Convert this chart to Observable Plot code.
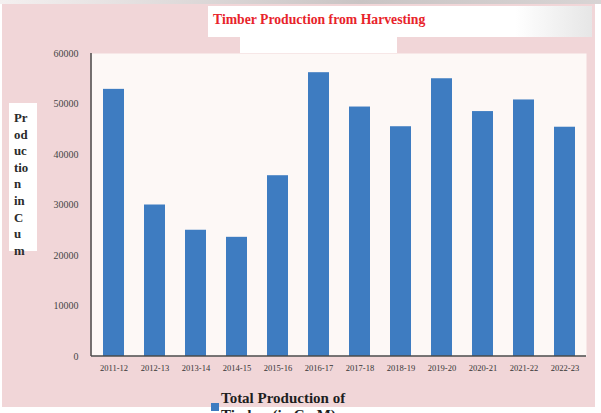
<!DOCTYPE html>
<html>
<head>
<meta charset="utf-8">
<script src="https://cdn.jsdelivr.net/npm/d3@7"></script>
<script src="https://cdn.jsdelivr.net/npm/@observablehq/plot@0.6"></script>
<style>
  html, body { margin: 0; padding: 0; background: #fff; }
  #wrap { position: relative; width: 601px; height: 413px; overflow: hidden; background: #fff; font-family: "Liberation Serif", "DejaVu Serif", serif; }
  .abs { position: absolute; }
  #pink { left: 2px; top: 4px; width: 593px; height: 403px; background: #f1d6d8; }
  #topline { left: 0; top: 0; width: 601px; height: 4px; background: linear-gradient(to right, #f4f0f0, #c9c4c4 60%, #d8d4d4); }
  #titlebox { left: 208px; top: 6px; width: 384px; height: 31px; background: linear-gradient(to right, #ffffff 0%, #ffffff 80%, #e6e6e6 100%); }
  #titlebox2 { left: 240px; top: 37px; width: 157px; height: 16px; background: #ffffff; }
  #title { left: 213px; top: 13px; font-size: 13.7px; line-height: 14px; font-weight: bold; color: #e8232a; white-space: nowrap; }
  #ylabbox { left: 9px; top: 103px; width: 28px; height: 148px; background: #ffffff; }
  #ylab { left: 14px; top: 110px; font-size: 12.8px; line-height: 16.6px; font-weight: bold; color: #2a2a2a; }
  #legsq { left: 211px; top: 403px; width: 8px; height: 8px; background: #3e7cc1; }
  #legtxt { left: 221px; top: 389.5px; font-size: 15px; line-height: 17px; font-weight: bold; color: #1e1e1e; white-space: nowrap; }
  #plot { left: 0; top: 0; }
</style>
</head>
<body>
<div id="wrap">
  <div id="topline" class="abs"></div>
  <div id="pink" class="abs"></div>
  <div id="titlebox" class="abs"></div>
  <div id="titlebox2" class="abs"></div>
  <div id="plot" class="abs"></div>
  <div id="title" class="abs"></div>
  <div id="ylabbox" class="abs"></div>
  <div id="ylab" class="abs"></div>
  <div id="legsq" class="abs"></div>
  <div id="legtxt" class="abs"></div>
</div>
<script>
const categories = ["2011-12", "2012-13", "2013-14", "2014-15", "2015-16", "2016-17",
                    "2017-18", "2018-19", "2019-20", "2020-21", "2021-22", "2022-23"];
const production = [52900, 30000, 25000, 23600, 35800, 56200, 49400, 45500, 55000, 48500, 50800, 45400];
const yTicks = [0, 10000, 20000, 30000, 40000, 50000, 60000];
const titleText = "Timber Production from Harvesting";
const yLabelLines = ["Pr", "od", "uc", "tio", "n", "in", "C", "u", "m"];
const legendLines = ["Total Production of", "Timber (in Cu M)"];

const data = categories.map((c, i) => ({year: c, value: production[i]}));

const axisLines = (index, scales, values, dims) => {
  const {width, height, marginLeft, marginRight, marginTop, marginBottom} = dims;
  const g = d3.create("svg:g").attr("stroke", "#4a4a4a").attr("stroke-width", 1.5);
  g.append("line").attr("x1", marginLeft).attr("x2", marginLeft)
    .attr("y1", marginTop).attr("y2", height - marginBottom);
  g.append("line").attr("x1", marginLeft).attr("x2", width - marginRight)
    .attr("y1", height - marginBottom).attr("y2", height - marginBottom);
  return g.node();
};

const chart = Plot.plot({
  width: 601,
  height: 413,
  marginLeft: 91,
  marginRight: 15,
  marginTop: 53,
  marginBottom: 57,
  style: {background: "transparent", fontFamily: "'Liberation Serif', serif", overflow: "visible"},
  x: {domain: categories, paddingInner: 0.49, paddingOuter: 0.245, label: null},
  y: {domain: [0, 60000], label: null},
  marks: [
    Plot.frame({fill: "#fdf8f6", stroke: "none"}),
    Plot.barY(data, {x: "year", y: "value", fill: "#3e7cc1"}),
    Plot.axisY({ticks: yTicks, tickSize: 0, tickPadding: 13, fontSize: 10, fill: "#454545",
                tickFormat: d => String(d), label: null}),
    Plot.axisX({tickSize: 0, tickPadding: 8, fontSize: 8.5, fill: "#353535", label: null}),
    axisLines
  ]
});
document.getElementById("plot").appendChild(chart);

document.getElementById("title").textContent = titleText;
document.getElementById("ylab").innerHTML = yLabelLines.join("<br>");
document.getElementById("legtxt").innerHTML = legendLines.join("<br>");
</script>
</body>
</html>
